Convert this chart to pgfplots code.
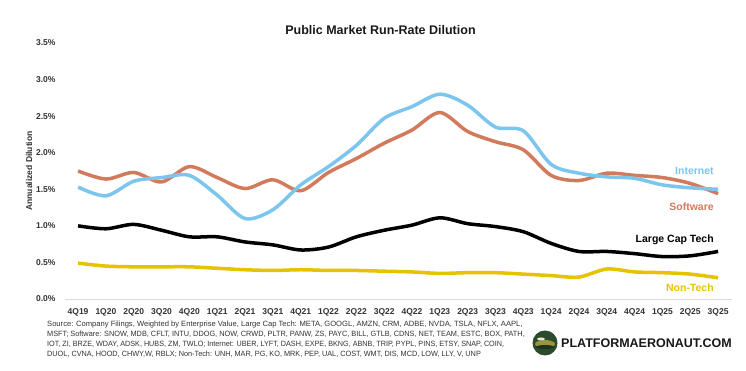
\documentclass[border=0pt]{standalone}
\usepackage{pgfplots}
\pgfplotsset{compat=1.18}
\usepackage{fontspec}
\setmainfont{Liberation Sans}
\definecolor{cInt}{HTML}{7CC6EE}
\definecolor{cSoft}{HTML}{D27A5C}
\definecolor{cNon}{HTML}{E6C300}
\definecolor{cTick}{HTML}{333333}
\definecolor{cLogoA}{HTML}{2C4A2C}
\definecolor{cLogoB}{HTML}{9A9440}
\begin{document}
\begin{tikzpicture}[x=1pt,y=1pt]
\useasboundingbox[fill=white] (0,0) rectangle (746,371);
\begin{axis}[
 at={(65pt,72pt)}, anchor=south west,
 scale only axis, width=667pt, height=256pt,
 xmin=-0.47, xmax=23.5, ymin=0, ymax=3.5,
 axis x line*=bottom, axis y line*=left,
 x axis line style={draw=black!15, line width=0.8pt},
 y axis line style={draw=none},
 tick style={draw=none},
 xtick={0,...,23},
 xticklabels={4Q19,1Q20,2Q20,3Q20,4Q20,1Q21,2Q21,3Q21,4Q21,1Q22,2Q22,3Q22,4Q22,1Q23,2Q23,3Q23,4Q23,1Q24,2Q24,3Q24,4Q24,1Q25,2Q25,3Q25},
 ytick={0,0.5,1,1.5,2,2.5,3,3.5},
 yticklabel={\pgfmathprintnumber[fixed,fixed zerofill,precision=1]{\tick}\%},
 /pgf/number format/assume math mode=true,
 ticklabel style={font=\bfseries\fontsize{8.5}{10}\selectfont, text=cTick},
 xticklabel style={yshift=-6pt},
 yticklabel style={xshift=-6pt},
 clip=false,
]
\addplot[smooth, tension=0.5, line width=3.5pt, color=cSoft] coordinates {
(0,1.75)(1,1.64)(2,1.73)(3,1.60)(4,1.81)(5,1.66)(6,1.51)(7,1.63)(8,1.48)(9,1.73)(10,1.92)(11,2.13)(12,2.31)(13,2.55)(14,2.29)(15,2.15)(16,2.04)(17,1.69)(18,1.62)(19,1.72)(20,1.69)(21,1.66)(22,1.58)(23,1.44)};
\addplot[smooth, tension=0.5, line width=3.5pt, color=cInt] coordinates {
(0,1.53)(1,1.41)(2,1.61)(3,1.66)(4,1.69)(5,1.42)(6,1.10)(7,1.22)(8,1.56)(9,1.81)(10,2.10)(11,2.47)(12,2.63)(13,2.80)(14,2.65)(15,2.35)(16,2.30)(17,1.84)(18,1.72)(19,1.67)(20,1.65)(21,1.56)(22,1.52)(23,1.50)};
\addplot[smooth, tension=0.5, line width=3.5pt, color=black] coordinates {
(0,1.00)(1,0.96)(2,1.02)(3,0.94)(4,0.85)(5,0.85)(6,0.78)(7,0.74)(8,0.67)(9,0.71)(10,0.85)(11,0.94)(12,1.01)(13,1.11)(14,1.03)(15,0.99)(16,0.92)(17,0.76)(18,0.65)(19,0.65)(20,0.62)(21,0.58)(22,0.59)(23,0.65)};
\addplot[smooth, tension=0.5, line width=3.5pt, color=cNon] coordinates {
(0,0.49)(1,0.45)(2,0.44)(3,0.44)(4,0.44)(5,0.42)(6,0.40)(7,0.39)(8,0.40)(9,0.39)(10,0.39)(11,0.38)(12,0.37)(13,0.35)(14,0.36)(15,0.36)(16,0.34)(17,0.32)(18,0.30)(19,0.41)(20,0.37)(21,0.36)(22,0.34)(23,0.29)};
\node[anchor=east, inner sep=0pt, font=\bfseries\fontsize{10.5}{12}\selectfont, text=cInt] at (axis cs:22.85,1.75) {Internet};
\node[anchor=east, inner sep=0pt, font=\bfseries\fontsize{10.5}{12}\selectfont, text=cSoft] at (axis cs:22.85,1.26) {Software};
\node[anchor=east, inner sep=0pt, font=\bfseries\fontsize{10.5}{12}\selectfont, text=black] at (axis cs:22.85,0.81) {Large Cap Tech};
\node[anchor=east, inner sep=0pt, font=\bfseries\fontsize{10.5}{12}\selectfont, text=cNon] at (axis cs:22.85,0.15) {Non-Tech};
\end{axis}
\node[font=\bfseries\fontsize{12.5}{14}\selectfont, text=black!90] at (380.5,341) {Public Market Run-Rate Dilution};
\node[rotate=90, font=\bfseries\fontsize{8.5}{10}\selectfont, text=cTick] at (29,200) {Annualized Dilution};
\node[anchor=north west, inner sep=0pt, align=left, font=\fontsize{7.6}{10}\selectfont, text=cTick] at (47,50) {\scalebox{1}[1]{Source: Company Filings, Weighted by Enterprise Value, Large Cap Tech: META, GOOGL, AMZN, CRM, ADBE, NVDA, TSLA, NFLX, AAPL,}\\\scalebox{0.965}[1]{MSFT; Software: SNOW, MDB, CFLT, INTU, DDOG, NOW, CRWD, PLTR, PANW, ZS, PAYC, BILL, GTLB, CDNS, NET, TEAM, ESTC, BOX, PATH,}\\\scalebox{0.95}[1]{IOT, ZI, BRZE, WDAY, ADSK, HUBS, ZM, TWLO; Internet: UBER, LYFT, DASH, EXPE, BKNG, ABNB, TRIP, PYPL, PINS, ETSY, SNAP, COIN,}\\\scalebox{0.96}[1]{DUOL, CVNA, HOOD, CHWY,W, RBLX; Non-Tech: UNH, MAR, PG, KO, MRK, PEP, UAL, COST, WMT, DIS, MCD, LOW, LLY, V, UNP}};
\fill[cLogoA] (545,28) circle (12.5);
\fill[cLogoB] (545,27) ellipse (10 and 4);
\fill[cLogoA!70!black] (545,24) ellipse (9 and 2);
\fill[white!80!cLogoB] (541,32) ellipse (4 and 1.5);
\node[anchor=west, inner sep=0pt, font=\bfseries\fontsize{12.5}{14}\selectfont, text=black!90] at (561,28) {PLATFORMAERONAUT.COM};
\end{tikzpicture}
\end{document}
